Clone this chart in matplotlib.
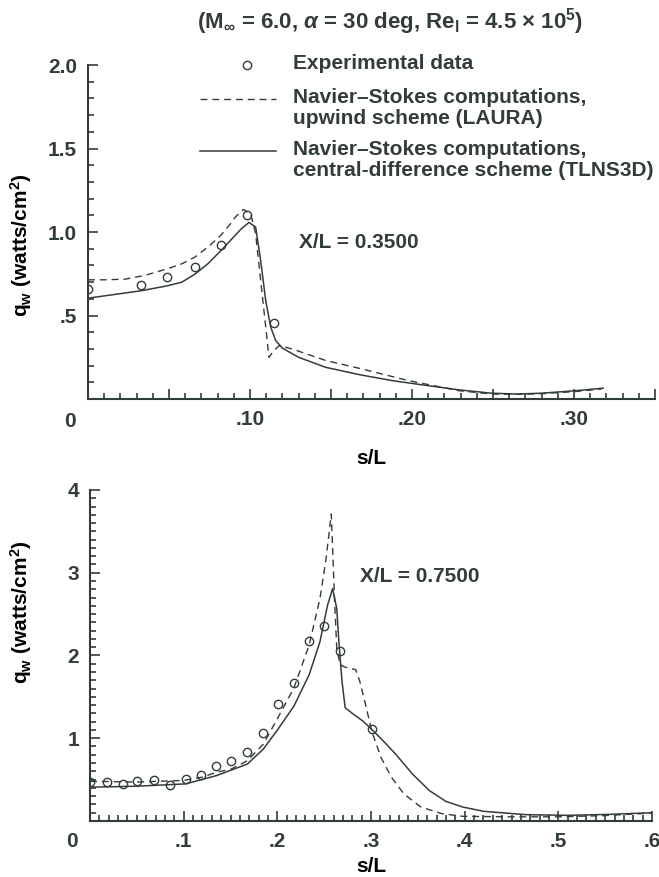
import numpy as np
import matplotlib
matplotlib.use('Agg')
import matplotlib.pyplot as plt
from matplotlib.lines import Line2D
from matplotlib.ticker import MultipleLocator, FuncFormatter

INK = '#333d37'
plt.rcParams['font.family'] = ['Liberation Sans', 'DejaVu Sans']
plt.rcParams['font.weight'] = 'bold'
plt.rcParams['mathtext.fontset'] = 'custom'
plt.rcParams['mathtext.rm'] = 'Liberation Sans:bold'
plt.rcParams['mathtext.bf'] = 'Liberation Sans:bold'
plt.rcParams['mathtext.it'] = 'Liberation Sans:italic:bold'
plt.rcParams['mathtext.sf'] = 'Liberation Sans:bold'
plt.rcParams['text.color'] = INK

# ---- X/L = 0.35 station ----
top_exp_s = [0.0, 0.033, 0.049, 0.066, 0.082, 0.098, 0.115]
top_exp_q = [0.66, 0.685, 0.73, 0.79, 0.92, 1.10, 0.455]

top_laura_s = [0.0, 0.01, 0.023, 0.035, 0.049, 0.058, 0.066, 0.074, 0.082, 0.088, 0.091,
               0.0959, 0.1004, 0.1035, 0.1066, 0.1093, 0.1117, 0.1148, 0.118, 0.126, 0.147,
               0.167, 0.198, 0.229, 0.249, 0.265, 0.28, 0.301, 0.317]
top_laura_q = [0.714, 0.714, 0.718, 0.74, 0.78, 0.81, 0.85, 0.91, 0.98, 1.05, 1.09,
               1.135, 1.11, 0.99, 0.71, 0.47, 0.25, 0.29, 0.32, 0.30, 0.23,
               0.185, 0.11, 0.05, 0.03, 0.028, 0.032, 0.045, 0.06]

top_tlns_s = [0.0, 0.0325, 0.049, 0.058, 0.066, 0.074, 0.082, 0.0945, 0.0994, 0.1035, 0.1066,
              0.1097, 0.1128, 0.1159, 0.12, 0.13, 0.1467, 0.168, 0.188, 0.21, 0.229, 0.249,
              0.265, 0.28, 0.301, 0.318]
top_tlns_q = [0.604, 0.648, 0.678, 0.70, 0.748, 0.81, 0.888, 1.018, 1.058, 1.03, 0.83,
              0.59, 0.43, 0.35, 0.305, 0.25, 0.19, 0.145, 0.11, 0.08, 0.055, 0.035,
              0.03, 0.035, 0.05, 0.065]

# ---- X/L = 0.75 station ----
bot_exp_s = [0.0, 0.018, 0.035, 0.05, 0.068, 0.085, 0.102, 0.119, 0.135, 0.151, 0.168,
             0.185, 0.201, 0.218, 0.234, 0.25, 0.267, 0.301]
bot_exp_q = [0.47, 0.476, 0.448, 0.488, 0.50, 0.44, 0.508, 0.556, 0.668, 0.728, 0.836,
             1.06, 1.408, 1.668, 2.176, 2.356, 2.06, 1.108]

bot_laura_s = [0.0, 0.05, 0.1, 0.12, 0.135, 0.151, 0.168, 0.185, 0.2006, 0.2177, 0.234,
               0.2455, 0.252, 0.2576, 0.261, 0.2634, 0.267, 0.272, 0.2837, 0.288, 0.295,
               0.3007, 0.3106, 0.3218, 0.335, 0.3532, 0.3757, 0.398, 0.45, 0.5, 0.55, 0.6]
bot_laura_q = [0.48, 0.47, 0.49, 0.53, 0.588, 0.628, 0.728, 0.928, 1.248, 1.608, 2.128,
               2.688, 3.168, 3.71, 2.69, 2.09, 1.888, 1.86, 1.828, 1.688, 1.368,
               1.088, 0.768, 0.528, 0.328, 0.168, 0.088, 0.056, 0.05, 0.05, 0.065, 0.096]

bot_tlns_s = [0.0, 0.05, 0.102, 0.135, 0.168, 0.185, 0.2006, 0.2177, 0.234, 0.2455, 0.2536,
              0.259, 0.2634, 0.2657, 0.269, 0.2724, 0.2814, 0.2913, 0.3007, 0.313, 0.3263,
              0.3442, 0.3622, 0.38, 0.398, 0.4206, 0.4654, 0.51, 0.555, 0.6]
bot_tlns_q = [0.408, 0.42, 0.448, 0.548, 0.688, 0.868, 1.108, 1.388, 1.768, 2.168, 2.608,
              2.808, 2.568, 2.168, 1.688, 1.368, 1.288, 1.208, 1.108, 0.968, 0.808,
              0.568, 0.368, 0.236, 0.168, 0.116, 0.076, 0.068, 0.08, 0.1]

TITLE = r'(M$_{\infty}$ = 6.0, $\alpha$ = 30 deg, Re$_{\mathrm{l}}$ = 4.5 $\times$ 10$^{5}$)'
YLABEL = r'q$_{\mathrm{w}}$ (watts/cm$^{2}$)'
LEG_LABELS = ['Experimental data',
              'Navier\u2013Stokes computations,\nupwind scheme (LAURA)',
              'Navier\u2013Stokes computations,\ncentral-difference scheme (TLNS3D)']

FS = 15
LEG_FS = 15
DASH = (0, (5, 3.5))

W, H = 659, 877
fig = plt.figure(figsize=(W / 100, H / 100), dpi=100)
ax1 = fig.add_axes([0.1335, 0.545, 0.8604, 0.3808])
ax2 = fig.add_axes([0.1366, 0.0639, 0.8528, 0.3774])


def fx(px):
    return px / W


def fy(py):
    return 1 - py / H


def style_axes(ax):
    for side in ['top', 'right']:
        ax.spines[side].set_visible(False)
    for side in ['left', 'bottom']:
        ax.spines[side].set_linewidth(1.5)
        ax.spines[side].set_color(INK)
    ax.tick_params(which='both', direction='in', colors=INK, width=1.2,
                   labelsize=FS, top=False, right=False)
    ax.tick_params(which='major', length=7, pad=8)
    ax.tick_params(which='minor', length=4)
    for lab in ax.get_xticklabels() + ax.get_yticklabels():
        lab.set_fontweight('bold')


def plot_station(ax, exp_s, exp_q, laura_s, laura_q, tlns_s, tlns_q):
    ax.plot(exp_s, exp_q, ls='none', marker='o', ms=6, mfc='none', mec=INK, mew=1.0)
    ax.plot(laura_s, laura_q, ls=DASH, color=INK, lw=1.0)
    ax.plot(tlns_s, tlns_q, ls='-', color=INK, lw=1.1)


# top panel
plot_station(ax1, top_exp_s, top_exp_q, top_laura_s, top_laura_q, top_tlns_s, top_tlns_q)
ax1.set_xlim(0, 0.35)
ax1.set_ylim(0, 2.0)
ax1.xaxis.set_major_locator(MultipleLocator(0.05))
ax1.xaxis.set_minor_locator(MultipleLocator(0.01))
ax1.yaxis.set_major_locator(MultipleLocator(0.5))
ax1.yaxis.set_minor_locator(MultipleLocator(0.1))
ax1.xaxis.set_major_formatter(FuncFormatter(
    lambda v, p: ('%.2f' % v)[1:] if v > 0.01 and abs(v * 10 - round(v * 10)) < 1e-6 else ''))
ax1.yaxis.set_major_formatter(FuncFormatter(
    lambda v, p: '' if v == 0 else ('.5' if abs(v - 0.5) < 1e-6 else '%.1f' % v)))
style_axes(ax1)
ax1.set_xlabel('s/L', fontsize=FS, fontweight='bold', labelpad=14)
ax1.set_ylabel(YLABEL, fontsize=FS, fontweight='bold')
ax1.yaxis.set_label_coords(-0.095, 0.46)
ax1.annotate('0', xy=(0, 0), xycoords='axes fraction', xytext=(-13, -16),
             textcoords='offset points', ha='center', va='center', fontsize=FS,
             fontweight='bold')
ax1.text(0.13, 0.94, 'X/L = 0.3500', fontsize=FS, fontweight='bold', va='center')

# legend, drawn by hand so each key sits on the first line of its label
key_x0, key_x1, txt_x = 200, 276, 293
fig.add_artist(Line2D([fx(247)], [fy(65)], transform=fig.transFigure,
                      ls='none', marker='o', ms=6, mfc='none', mec=INK, mew=1.0))
fig.add_artist(Line2D([fx(key_x0), fx(key_x1)], [fy(99), fy(99)], transform=fig.transFigure,
                      ls=DASH, color=INK, lw=1.0))
fig.add_artist(Line2D([fx(key_x0), fx(key_x1)], [fy(151), fy(151)], transform=fig.transFigure,
                      ls='-', color=INK, lw=1.1))
for label, y in zip(LEG_LABELS, [65, 99, 151]):
    fig.text(fx(txt_x), fy(y - 11), label, fontsize=LEG_FS, fontweight='bold',
             va='top', linespacing=1.15)

fig.text(fx(390), fy(22), TITLE, ha='center', va='center', fontsize=16,
         fontweight='bold')

# bottom panel
plot_station(ax2, bot_exp_s, bot_exp_q, bot_laura_s, bot_laura_q, bot_tlns_s, bot_tlns_q)
ax2.set_xlim(0, 0.6)
ax2.set_ylim(0, 4)
ax2.xaxis.set_major_locator(MultipleLocator(0.1))
ax2.xaxis.set_minor_locator(MultipleLocator(0.01))
ax2.yaxis.set_major_locator(MultipleLocator(1))
ax2.yaxis.set_minor_locator(MultipleLocator(0.1))
ax2.xaxis.set_major_formatter(FuncFormatter(
    lambda v, p: '' if v < 0.01 else ('%.1f' % v)[1:]))
ax2.yaxis.set_major_formatter(FuncFormatter(
    lambda v, p: '' if v == 0 else '%d' % round(v)))
style_axes(ax2)
ax2.set_xlabel('s/L', fontsize=FS, fontweight='bold', labelpad=4)
ax2.set_ylabel(YLABEL, fontsize=FS, fontweight='bold')
ax2.yaxis.set_label_coords(-0.1, 0.63)
ax2.annotate('0', xy=(0, 0), xycoords='axes fraction', xytext=(-13, -15),
             textcoords='offset points', ha='center', va='center', fontsize=FS,
             fontweight='bold')
ax2.text(0.288, 2.96, 'X/L = 0.7500', fontsize=FS, fontweight='bold', va='center')

fig.savefig('out.png', dpi=100, facecolor='white')
